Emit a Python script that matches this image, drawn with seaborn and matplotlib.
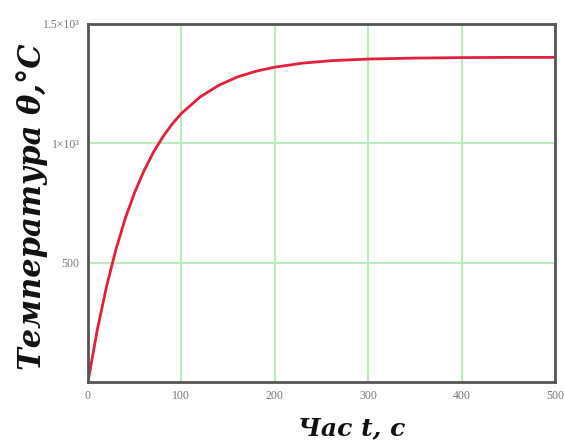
import matplotlib
matplotlib.use("Agg")
import matplotlib.pyplot as plt
import seaborn as sns
import pandas as pd

# Values
time_s = [0, 10, 20, 30, 40, 50, 60, 70, 80, 90, 100, 120, 140, 160, 180,
          200, 230, 260, 300, 350, 400, 450, 500]
temperature = [0, 219, 402, 556, 686, 794, 885, 962, 1026, 1080, 1125, 1194,
               1243, 1278, 1302, 1319, 1336, 1346, 1353, 1357, 1359, 1360, 1360]

x_ticks = [0, 100, 200, 300, 400, 500]
x_tick_labels = ["0", "100", "200", "300", "400", "500"]
y_ticks = [500, 1000, 1500]
y_tick_labels = ["500", "1×10³", "1.5×10³"]

df = pd.DataFrame({"t": time_s, "T": temperature})

sns.set_theme(style="white")
plt.rcParams['font.family'] = ['Liberation Serif', 'DejaVu Serif']

fig = plt.figure(figsize=(5.64, 4.44), dpi=100)
ax = fig.add_axes([0.156, 0.140, 0.828, 0.806])

sns.lineplot(data=df, x="t", y="T", ax=ax, color="#e3203a", linewidth=2.0)

ax.set_xlim(0, 500)
ax.set_ylim(0, 1500)
ax.set_xticks(x_ticks)
ax.set_xticklabels(x_tick_labels)
ax.set_yticks(y_ticks)
ax.set_yticklabels(y_tick_labels)
ax.tick_params(axis="both", length=0, labelsize=8.5, labelcolor="#777777", pad=6)

ax.grid(True, color="#aee8ae", linewidth=1.2)
ax.set_axisbelow(True)
for s in ax.spines.values():
    s.set_color("#555555")
    s.set_linewidth(2.0)

label_font = dict(family=["DejaVu Serif"], fontweight="bold", fontstyle="italic", color="#111111")
ax.set_xlabel("Час t, c", fontsize=18, **label_font)
ax.set_ylabel("Температура θ,°C", fontsize=22, **label_font)
ax.xaxis.set_label_coords(0.565, -0.095)
ax.yaxis.set_label_coords(-0.086, 0.489)

fig.savefig("out.png", dpi=100, facecolor="white")
